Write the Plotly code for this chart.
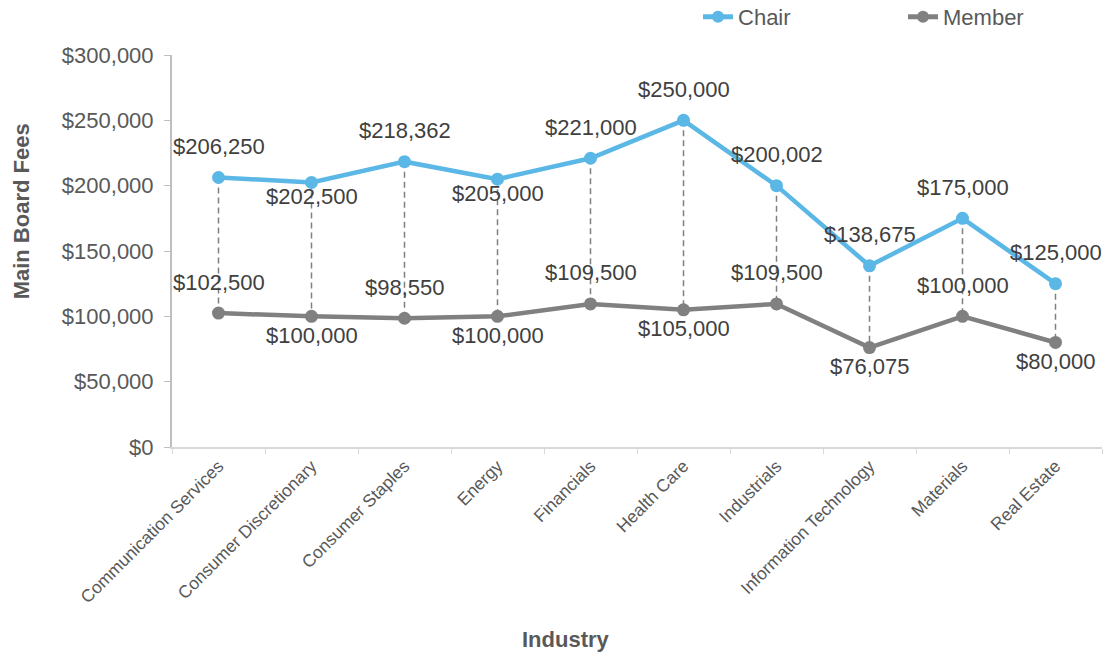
import plotly.graph_objects as go

# Board fees by industry
industries = [
    "Communication Services", "Consumer Discretionary", "Consumer Staples",
    "Energy", "Financials", "Health Care", "Industrials",
    "Information Technology", "Materials", "Real Estate",
]
chair_fees = [206250, 202500, 218362, 205000, 221000, 250000, 200002, 138675, 175000, 125000]
member_fees = [102500, 100000, 98550, 100000, 109500, 105000, 109500, 76075, 100000, 80000]

# which side of the point each value label sits on
chair_label_side = ["above", "below", "above", "below", "above",
                    "above", "above", "above", "above", "above"]
member_label_side = ["above", "below", "above", "below", "above",
                     "below", "above", "below", "above", "below"]

BLUE = "#5BB7E5"
GRAY = "#808080"
TEXT = "#404040"
AXIS_TEXT = "#595959"
FONT = "Liberation Sans, Arial, sans-serif"


def money(v):
    return "${:,.0f}".format(v)


# dashed connectors between chair and member values
drop_x, drop_y = [], []
for cat, c, m in zip(industries, chair_fees, member_fees):
    drop_x += [cat, cat, None]
    drop_y += [c, m, None]

fig = go.Figure()
fig.add_trace(go.Scatter(
    x=drop_x, y=drop_y, mode="lines", showlegend=False, hoverinfo="skip",
    line=dict(color=GRAY, width=1.5, dash="6px,4px"),
))
fig.add_trace(go.Scatter(
    x=industries, y=chair_fees, name="Chair", mode="lines+markers",
    line=dict(color=BLUE, width=4.5), marker=dict(color=BLUE, size=13),
))
fig.add_trace(go.Scatter(
    x=industries, y=member_fees, name="Member", mode="lines+markers",
    line=dict(color=GRAY, width=4.5), marker=dict(color=GRAY, size=13),
))

# value labels
annotations = []
for values, sides, below_shift in ((chair_fees, chair_label_side, -14),
                                   (member_fees, member_label_side, -19)):
    for cat, v, side in zip(industries, values, sides):
        annotations.append(dict(
            x=cat, y=v, xref="x", yref="y", text=money(v), showarrow=False,
            xanchor="center", yanchor="middle",
            yshift=31 if side == "above" else below_shift,
            font=dict(family=FONT, size=22, color=TEXT),
        ))

annotations += [
    dict(text="<b>Industry</b>", xref="paper", yref="paper", x=0.4237, y=-0.492,
         xanchor="center", yanchor="middle", showarrow=False,
         font=dict(family=FONT, size=22, color=AXIS_TEXT)),
    dict(text="<b>Main Board Fees</b>", xref="paper", yref="paper", x=-0.162, y=0.602,
         xanchor="center", yanchor="middle", textangle=-90, showarrow=False,
         font=dict(family=FONT, size=22, color=AXIS_TEXT)),
]

fig.update_layout(
    width=1106, height=656,
    margin=dict(l=172, r=4, t=55, b=209, autoexpand=False),
    paper_bgcolor="white", plot_bgcolor="white",
    font=dict(family=FONT, color=AXIS_TEXT),
    legend=dict(
        orientation="h", x=0.5656, xanchor="left", y=1.097, yref="paper", yanchor="middle",
        font=dict(family=FONT, size=22, color=AXIS_TEXT),
        entrywidth=160, entrywidthmode="pixels", itemsizing="constant",
        bgcolor="rgba(0,0,0,0)", tracegroupgap=0,
    ),
    xaxis=dict(
        type="category", showgrid=False, showline=True, linecolor="#D9D9D9", linewidth=2,
        ticks="outside", tickson="boundaries", ticklen=5, tickcolor="#D9D9D9",
        tickangle=-45, tickfont=dict(family=FONT, size=17.5, color=AXIS_TEXT),
        range=[-0.5, len(industries) - 0.5],
    ),
    yaxis=dict(
        range=[0, 300000], dtick=50000, tickprefix="$", tickformat=",.0f",
        showgrid=False, showline=True, linecolor="#BFBFBF", linewidth=2,
        ticks="outside", ticklen=6, tickcolor="#BFBFBF", ticklabelstandoff=6,
        tickfont=dict(family=FONT, size=22, color=AXIS_TEXT), zeroline=False,
    ),
    annotations=annotations,
)

fig.write_html("out.html")
